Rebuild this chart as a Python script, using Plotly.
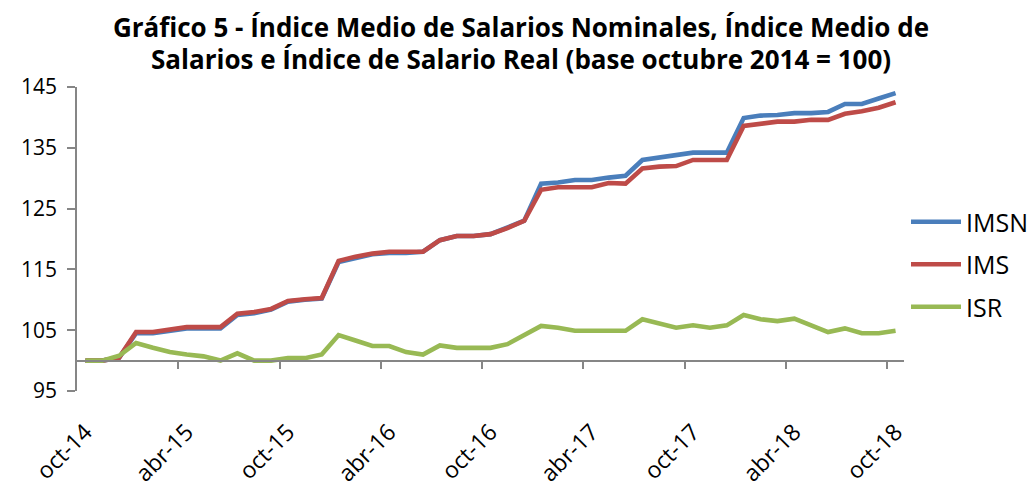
import plotly.graph_objects as go

months = ["oct-14", "nov-14", "dic-14", "ene-15", "feb-15", "mar-15", "abr-15", "may-15", "jun-15", "jul-15", "ago-15", "sep-15",
          "oct-15", "nov-15", "dic-15", "ene-16", "feb-16", "mar-16", "abr-16", "may-16", "jun-16", "jul-16", "ago-16", "sep-16",
          "oct-16", "nov-16", "dic-16", "ene-17", "feb-17", "mar-17", "abr-17", "may-17", "jun-17", "jul-17", "ago-17", "sep-17",
          "oct-17", "nov-17", "dic-17", "ene-18", "feb-18", "mar-18", "abr-18", "may-18", "jun-18", "jul-18", "ago-18", "sep-18",
          "oct-18"]

imsn = [100.0, 100.0, 100.5, 104.5, 104.5, 104.9, 105.3, 105.3, 105.3, 107.5, 107.8, 108.4,
        109.7, 110.0, 110.2, 116.2, 116.8, 117.5, 117.7, 117.7, 117.9, 119.8, 120.5, 120.5,
        120.8, 121.8, 123.0, 129.1, 129.3, 129.7, 129.7, 130.1, 130.4, 133.0, 133.4, 133.7,
        134.2, 134.2, 134.2, 139.9, 140.3, 140.4, 140.7, 140.7, 140.9, 142.2, 142.2, 143.1,
        144.0]

ims = [100.0, 100.0, 100.5, 104.7, 104.7, 105.1, 105.5, 105.5, 105.5, 107.7, 108.0, 108.5,
       109.8, 110.1, 110.3, 116.4, 117.1, 117.6, 117.9, 117.9, 117.9, 119.8, 120.5, 120.5,
       120.8, 121.8, 123.0, 128.1, 128.5, 128.5, 128.5, 129.2, 129.1, 131.6, 131.9, 132.0,
       133.0, 133.0, 133.0, 138.6, 139.0, 139.3, 139.3, 139.6, 139.6, 140.6, 141.0, 141.6,
       142.5]

isr = [100.0, 100.0, 100.8, 102.9, 102.1, 101.4, 101.0, 100.7, 100.0, 101.2, 100.0, 100.0,
       100.4, 100.4, 101.0, 104.2, 103.3, 102.4, 102.4, 101.4, 101.0, 102.5, 102.1, 102.1,
       102.1, 102.7, 104.1, 105.7, 105.4, 104.9, 104.9, 104.9, 104.9, 106.8, 106.1, 105.4,
       105.8, 105.4, 105.8, 107.5, 106.8, 106.5, 106.9, 105.8, 104.7, 105.3, 104.5, 104.5,
       104.9]

y_ticks = [95, 105, 115, 125, 135, 145]
label_step = 6
series_names = ["IMSN", "IMS", "ISR"]
colors = ["#4A7EBB", "#BE4B48", "#98B954"]
title_line1 = "Gráfico 5 - Índice Medio de Salarios Nominales, Índice Medio de"
title_line2 = "Salarios e Índice de Salario Real (base octubre 2014 = 100)"

FONT = "Open Sans"
x = list(range(len(months)))
y_min, y_max = 95, 145
cross_at = 100

# page body has an 8px default margin, so the figure is sized to fit the window
W, H = 1028, 480
ML, MR, MT, MB = 69, 132, 79, 97
PW, PH = W - ML - MR, H - MT - MB

fig = go.Figure()
for name, vals, col in zip(series_names, [imsn, ims, isr], colors):
    fig.add_trace(go.Scatter(x=x, y=vals, name=name, mode="lines",
                             line=dict(color=col, width=4.6), legendgroup=name))

# invisible helper trace bound to the crossing axis so it is rendered
fig.add_trace(go.Scatter(x=x, y=isr, xaxis="x2", mode="lines", showlegend=False,
                         hoverinfo="skip", line=dict(width=0), opacity=0))

label_idx = x[::label_step]
tick_bounds = [i - 0.5 for i in label_idx[1:]]
rng = [-0.5, len(months) - 0.5]

fig.update_layout(
    template="none",
    width=W, height=H,
    margin=dict(l=ML, r=MR, t=MT, b=MB),
    paper_bgcolor="white", plot_bgcolor="white",
    font=dict(family=FONT, size=22, color="black"),
    title=dict(text="<b>" + title_line1 + "</b>",
               x=0.499, xref="container", xanchor="center",
               y=1 - 20 / H, yref="container", yanchor="middle",
               font=dict(family=FONT, size=26, color="black")),
    xaxis=dict(range=rng, tickmode="array", tickvals=label_idx,
               ticktext=[months[i] for i in label_idx], tickangle=-45,
               showline=False, ticks="", showgrid=False, zeroline=False,
               automargin=False, ticklabelstandoff=22, tickfont=dict(size=23)),
    xaxis2=dict(range=rng, overlaying="x", anchor="free",
                position=(cross_at - y_min) / (y_max - y_min),
                showline=True, linecolor="#868686", linewidth=1.5,
                ticks="outside", ticklen=8, tickcolor="#868686", tickwidth=1.5,
                tickmode="array", tickvals=tick_bounds, showticklabels=False,
                showgrid=False, zeroline=False, automargin=False),
    yaxis=dict(range=[y_min, y_max], tickmode="array", tickvals=y_ticks,
               showline=True, linecolor="#868686", linewidth=1.5,
               ticks="outside", ticklen=8, tickcolor="#868686", tickwidth=1.5,
               showgrid=False, zeroline=False, ticklabelstandoff=6,
               automargin=False, tickfont=dict(size=21)),
    legend=dict(xref="container", yref="container",
                x=898 / W, xanchor="left", y=1 - 191 / H, yanchor="top",
                font=dict(size=25), tracegroupgap=7, itemwidth=50,
                bgcolor="rgba(0,0,0,0)"),
    showlegend=True,
    annotations=[dict(text="<b>" + title_line2 + "</b>", xref="paper", yref="paper",
                      x=(513 - ML) / PW, xanchor="center",
                      y=1 + (MT - 51) / PH, yanchor="middle",
                      showarrow=False, font=dict(family=FONT, size=26, color="black"))],
)

fig.write_html("out.html")
